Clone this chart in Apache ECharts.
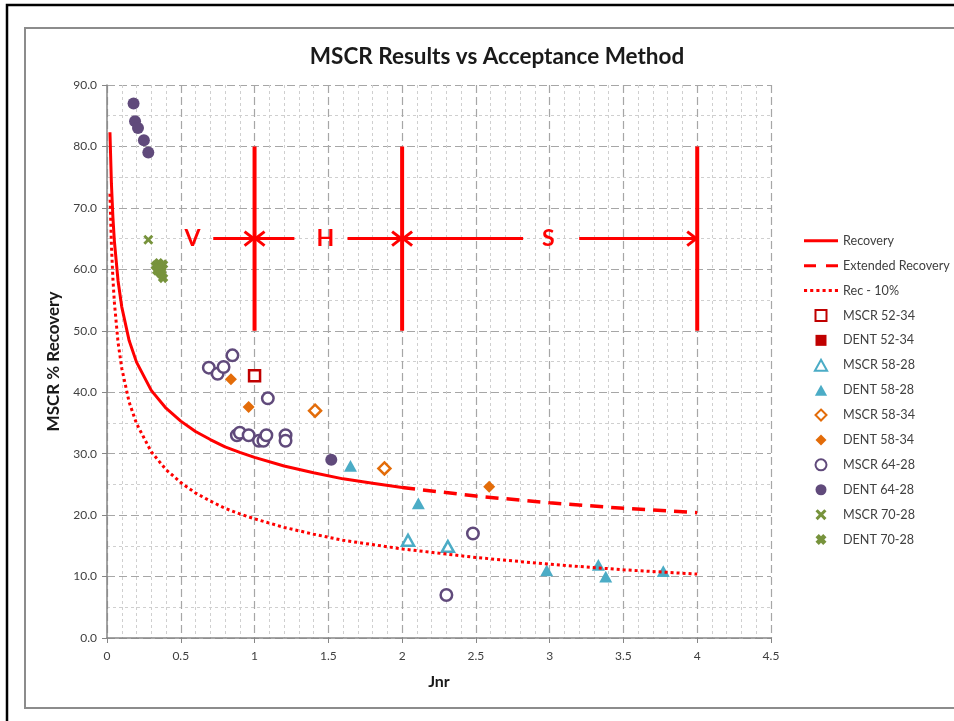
<!DOCTYPE html>
<html>
<head>
<meta charset="utf-8">
<script src="https://cdn.jsdelivr.net/npm/echarts@6/dist/echarts.min.js"></script>
<style>
html,body{margin:0;padding:0;background:#fff;}
#chart{width:954px;height:721px;}
</style>
</head>
<body>
<div id="chart"></div>
<script>
// ---------------- data ----------------
const chartTitle = 'MSCR Results vs Acceptance Method';
const xAxisName = 'Jnr';
const yAxisName = 'MSCR % Recovery';
const xMin = 0, xMax = 4.5, xStep = 0.5;
const yMin = 0, yMax = 90, yStep = 10;

// Recovery curve (solid), Jnr 0.02 .. 2
const recoveryJnr = [0.02,0.03,0.04,0.05,0.075,0.1,0.15,0.2,0.3,0.4,0.5,0.6,0.7,0.8,0.9,1.0,1.2,1.4,1.6,1.8,2.0];
const recoveryPct = [82.3,73.9,68.5,64.6,58.1,53.9,48.4,44.9,40.3,37.4,35.3,33.6,32.3,31.1,30.2,29.4,28.0,26.9,25.9,25.2,24.5];
// Extended Recovery (dashed), Jnr 2 .. 4
const extendedJnr = [2.0,2.5,3.0,3.5,4.0];
const extendedPct = [24.5,23.1,22.0,21.1,20.4];
// Rec - 10% (dotted), Jnr 0.02 .. 4
const recMinus10Jnr = [0.02,0.03,0.04,0.05,0.075,0.1,0.15,0.2,0.3,0.4,0.5,0.6,0.7,0.8,0.9,1.0,1.2,1.4,1.6,1.8,2.0,2.5,3.0,3.5,4.0];
const recMinus10Pct = [72.3,63.9,58.5,54.6,48.1,43.9,38.4,34.9,30.3,27.4,25.3,23.6,22.3,21.1,20.2,19.4,18.0,16.9,15.9,15.2,14.5,13.1,12.0,11.1,10.4];

// Scatter series: [Jnr, % Recovery]
const mscr5234 = [[1.0, 42.7]];
const dent5234 = [];
const mscr5828 = [[2.04, 15.9], [2.31, 14.9]];
const dent5828 = [[1.65, 28.0], [2.11, 21.9], [2.98, 11.0], [3.33, 11.9], [3.38, 10.0], [3.77, 10.9]];
const mscr5834 = [[1.41, 37.0], [1.88, 27.6]];
const dent5834 = [[0.84, 42.1], [0.96, 37.6], [2.59, 24.6]];
const mscr6428 = [[0.85, 46.0], [0.69, 44.0], [0.75, 43.0], [0.79, 44.1], [1.09, 39.0],
                  [0.88, 33.0], [0.90, 33.4], [0.96, 33.0], [1.03, 32.1], [1.06, 32.1],
                  [1.08, 33.0], [1.21, 33.0], [1.21, 32.1], [2.48, 17.0], [2.30, 7.0]];
const dent6428 = [[0.18, 87.0], [0.19, 84.1], [0.21, 83.0], [0.25, 81.0], [0.28, 79.0], [1.52, 29.0]];
const mscr7028 = [[0.28, 64.8]];
const dent7028 = [[0.33, 60.6], [0.35, 61.0], [0.37, 60.3], [0.36, 59.5], [0.38, 60.8], [0.34, 59.8],
                  [0.38, 58.6], [0.35, 60.2], [0.37, 59.2]];

// Acceptance zone annotation (V / H / S)
const zoneBoundaryJnr = [1, 2, 4];
const zoneBoundaryPct = [50, 80];
const zoneArrowPct = 65;
const zoneArrows = [[0.72, 1.0], [1.27, 1.0], [1.63, 2.0], [2.82, 2.0], [3.2, 4.0]]; // [from, to(head)]
const zoneLabels = ['V', 'H', 'S'];
const zoneLabelJnr = [0.58, 1.48, 2.99];

// ---------------- chart ----------------
const FONT = 'Lato, "Open Sans", sans-serif';
const pair = (xs, ys) => xs.map((x, i) => [x, ys[i]]);
const RED = '#ff0000';
const SQUARE = 'path://M0,0 L10,0 L10,10 L0,10 Z';
const TRIANGLE = 'path://M5,0 L10,9 L0,9 Z';
const DIAMOND = 'path://M5,0 L10,5 L5,10 L0,5 Z';
const X_PATH = 'path://M0,2 L2,0 L5,3 L8,0 L10,2 L7,5 L10,8 L8,10 L5,7 L2,10 L0,8 L3,5 Z';
const X_THICK = 'path://M0,3 L3,0 L5,2 L7,0 L10,3 L8,5 L10,7 L7,10 L5,8 L3,10 L0,7 L2,5 Z';
// legend line icons
const ICON_SOLID = 'path://M0,0 L34,0 L34,3 L0,3 Z';
const ICON_DASH = 'path://M0,0 L12,0 L12,3 L0,3 Z M22,0 L34,0 L34,3 L22,3 Z';
const ICON_DOT = 'path://M0,0 L3,0 L3,3 L0,3 Z M6,0 L9,0 L9,3 L6,3 Z M12,0 L15,0 L15,3 L12,3 Z M18,0 L21,0 L21,3 L18,3 Z M24,0 L27,0 L27,3 L24,3 Z M30,0 L33,0 L33,3 L30,3 Z';

function openScatter(name, data, symbol, color, size) {
  return { name, type: 'scatter', data, symbol, symbolSize: size, symbolKeepAspect: true,
    itemStyle: { color: '#ffffff', borderColor: color, borderWidth: 2.5, opacity: 1 } };
}
function filledScatter(name, data, symbol, color, size) {
  return { name, type: 'scatter', data, symbol, symbolSize: size, symbolKeepAspect: true,
    itemStyle: { color: color, borderWidth: 0, opacity: 1 } };
}

const chart = echarts.init(document.getElementById('chart'), null, { renderer: 'canvas' });

const series = [
  { name: 'Recovery', type: 'line', data: pair(recoveryJnr, recoveryPct), symbol: 'none',
    lineStyle: { color: RED, width: 3, type: 'solid' }, itemStyle: { color: RED }, z: 3 },
  { name: 'Extended Recovery', type: 'line', data: pair(extendedJnr, extendedPct), symbol: 'none',
    lineStyle: { color: RED, width: 3.5, type: [13, 8] }, itemStyle: { color: RED }, z: 3 },
  { name: 'Rec - 10%', type: 'line', data: pair(recMinus10Jnr, recMinus10Pct), symbol: 'none',
    lineStyle: { color: RED, width: 3, type: [3, 3] }, itemStyle: { color: RED }, z: 3 },
  openScatter('MSCR 52-34', mscr5234, SQUARE, '#c00000', 11),
  filledScatter('DENT 52-34', dent5234, SQUARE, '#c00000', 11),
  openScatter('MSCR 58-28', mscr5828, TRIANGLE, '#4bacc6', 12),
  filledScatter('DENT 58-28', dent5828, TRIANGLE, '#4bacc6', 13),
  openScatter('MSCR 58-34', mscr5834, DIAMOND, '#e36c09', 12),
  filledScatter('DENT 58-34', dent5834, DIAMOND, '#e36c09', 12),
  openScatter('MSCR 64-28', mscr6428, 'circle', '#604a7b', 11.5),
  filledScatter('DENT 64-28', dent6428, 'circle', '#604a7b', 12),
  filledScatter('MSCR 70-28', mscr7028, X_PATH, '#77933c', 10),
  filledScatter('DENT 70-28', dent7028, X_THICK, '#77933c', 10.5),
  // zone boundary bars
  { type: 'custom', name: '_bars', silent: true, z: 4,
    data: zoneBoundaryJnr.map(x => [x, zoneBoundaryPct[0], zoneBoundaryPct[1]]),
    encode: { x: 0, y: [1, 2] },
    renderItem: function (params, api) {
      const p1 = api.coord([api.value(0), api.value(1)]);
      const p2 = api.coord([api.value(0), api.value(2)]);
      return { type: 'line', shape: { x1: p1[0], y1: p1[1], x2: p2[0], y2: p2[1] },
        style: { stroke: RED, lineWidth: 4 } };
    } },
  // arrows
  { type: 'custom', name: '_arrows', silent: true, z: 4,
    data: zoneArrows.map(a => [a[0], a[1], zoneArrowPct]),
    encode: { x: [0, 1], y: 2 },
    renderItem: function (params, api) {
      const a = api.coord([api.value(0), api.value(2)]);
      const b = api.coord([api.value(1), api.value(2)]);
      const d = b[0] > a[0] ? 1 : -1;
      return { type: 'group', children: [
        { type: 'line', shape: { x1: a[0], y1: a[1], x2: b[0], y2: b[1] },
          style: { stroke: RED, lineWidth: 3 } },
        { type: 'polyline', shape: { points: [[b[0] - d * 10, b[1] - 7], [b[0] - d * 1, b[1]], [b[0] - d * 10, b[1] + 7]] },
          style: { stroke: RED, lineWidth: 3, fill: null } }
      ] };
    } },
  // labels
  { type: 'custom', name: '_labels', silent: true, z: 4,
    data: zoneLabelJnr.map(x => [x, zoneArrowPct]),
    encode: { x: 0, y: 1 },
    renderItem: function (params, api) {
      const p = api.coord([api.value(0), api.value(1)]);
      return { type: 'text', x: p[0], y: p[1],
        style: { text: zoneLabels[params.dataIndex], fill: RED, font: 'bold 23px ' + FONT,
          textAlign: 'center', textVerticalAlign: 'middle' } };
    } }
];

const legendNames = ['Recovery', 'Extended Recovery', 'Rec - 10%', 'MSCR 52-34', 'DENT 52-34',
  'MSCR 58-28', 'DENT 58-28', 'MSCR 58-34', 'DENT 58-34', 'MSCR 64-28', 'DENT 64-28',
  'MSCR 70-28', 'DENT 70-28'];
const legendLineIcons = { 'Recovery': ICON_SOLID, 'Extended Recovery': ICON_DASH, 'Rec - 10%': ICON_DOT };

const option = {
  backgroundColor: '#ffffff',
  animation: false,
  textStyle: { fontFamily: FONT },
  title: { text: chartTitle, left: 492, top: 40, textAlign: 'center',
    textStyle: { fontFamily: FONT, fontSize: 22.5, fontWeight: 'bold', color: '#1a1a1a' } },
  graphic: [
    { type: 'polyline', shape: { points: [[7, 721], [7, 5], [954, 5]] },
      style: { stroke: '#000000', lineWidth: 2.5, fill: null }, silent: true },
    { type: 'rect', shape: { x: 25, y: 28, width: 940, height: 680 },
      style: { stroke: '#8c8c8c', lineWidth: 2, fill: null }, silent: true }
  ],
  legend: {
    data: legendNames.map(n => legendLineIcons[n] ? { name: n, icon: legendLineIcons[n] } : { name: n }),
    orient: 'vertical', left: 799, top: 229,
    itemWidth: 34, itemHeight: 11, itemGap: 11.4,
    textStyle: { fontFamily: FONT, fontSize: 12.6, color: '#404040', lineHeight: 13.5 },
    selectedMode: false
  },
  grid: { left: 107, top: 85, width: 664, height: 553, containLabel: false },
  xAxis: {
    type: 'value', min: xMin, max: xMax, interval: xStep,
    name: xAxisName, nameLocation: 'middle', nameGap: 36,
    nameTextStyle: { fontFamily: FONT, fontSize: 16, fontWeight: 'bold', color: '#1a1a1a' },
    axisLine: { show: true, onZero: false, lineStyle: { color: '#868686', width: 1.5 } },
    axisTick: { show: true, length: 5, lineStyle: { color: '#868686' } },
    axisLabel: { fontFamily: FONT, fontSize: 12, color: '#404040', margin: 12 },
    splitLine: { show: true, lineStyle: { color: '#a6a6a6', width: 1.2, type: [8, 4] } },
    minorTick: { show: false, splitNumber: 5 },
    minorSplitLine: { show: true, lineStyle: { color: '#cfcfcf', width: 1, type: [3, 3] } }
  },
  yAxis: {
    type: 'value', min: yMin, max: yMax, interval: yStep,
    name: yAxisName, nameLocation: 'middle', nameGap: 36, nameRotate: 90,
    nameTextStyle: { fontFamily: FONT, fontSize: 17, fontWeight: 'bold', color: '#1a1a1a' },
    axisLine: { show: true, onZero: false, lineStyle: { color: '#868686', width: 1.5 } },
    axisTick: { show: true, length: 5, lineStyle: { color: '#868686' } },
    axisLabel: { fontFamily: FONT, fontSize: 12, color: '#404040', margin: 10,
      formatter: v => v.toFixed(1) },
    splitLine: { show: true, lineStyle: { color: '#a6a6a6', width: 1.2, type: [8, 4] } },
    minorTick: { show: false, splitNumber: 2 },
    minorSplitLine: { show: true, lineStyle: { color: '#cfcfcf', width: 1, type: [3, 3] } }
  },
  series: series
};
chart.setOption(option);
</script>
</body>
</html>
